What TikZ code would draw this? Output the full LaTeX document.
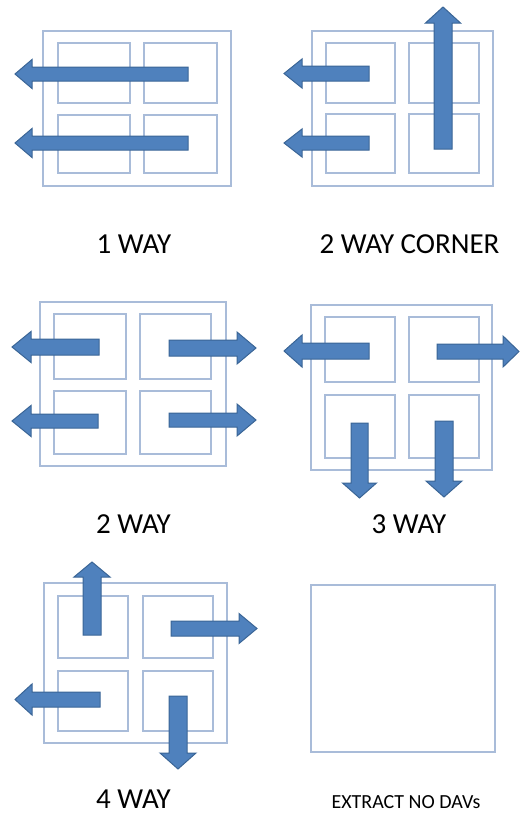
\documentclass[tikz,border=0pt]{standalone}
\usepackage{fontspec}
\setmainfont{Carlito}
\definecolor{boxline}{HTML}{A9BCD9}
\definecolor{arwfill}{HTML}{4F81BD}
\definecolor{arwline}{HTML}{3A6596}
\tikzset{
  frame/.style={draw=boxline, line width=1.2pt},
  arw/.style={fill=arwfill, draw=arwline, line width=1pt, line join=miter},
  biglabel/.style={anchor=base, inner sep=0pt, font=\fontsize{29}{34}\selectfont},
  smalllabel/.style={anchor=base, inner sep=0pt, font=\fontsize{20}{24}\selectfont}
}
% horizontal block arrow: tail x, centre y, half shaft, head base x, tip x, half head
\newcommand{\hArw}[6]{%
  \draw[arw] (#1,#2-#3) -- (#4,#2-#3) -- (#4,#2-#6) -- (#5,#2)
    -- (#4,#2+#6) -- (#4,#2+#3) -- (#1,#2+#3) -- cycle;}
% vertical block arrow: centre x, tail y, half shaft, head base y, tip y, half head
\newcommand{\vArw}[6]{%
  \draw[arw] (#1-#3,#2) -- (#1-#3,#4) -- (#1-#6,#4) -- (#1,#5)
    -- (#1+#6,#4) -- (#1+#3,#4) -- (#1+#3,#2) -- cycle;}
% the four inner cells of a unit
\newcommand{\unitgrid}[8]{%
  \draw[frame] (#1) rectangle (#2);
  \draw[frame] (#3) rectangle (#4);
  \draw[frame] (#5) rectangle (#6);
  \draw[frame] (#7) rectangle (#8);}
\begin{document}
\begin{tikzpicture}[x=1pt,y=-1pt]
\useasboundingbox (0,0) rectangle (520,814);

% ---- 1 WAY ----
\draw[frame] (43,31) rectangle (231,186);
\unitgrid{58,43}{130,103}{144,43}{217,103}{58,115}{130,173}{144,115}{217,173}
\hArw{188}{74}{7}{32}{15}{14.5}
\hArw{188}{143}{7}{32}{15}{14.5}
\node[biglabel] (l1) at (134,253) {1 WAY};

% ---- 2 WAY CORNER ----
\draw[frame] (312,31) rectangle (493,186);
\unitgrid{326,43}{395,103}{409,43}{479,103}{326,114}{395,173}{409,114}{479,173}
\hArw{369}{73.5}{7.5}{302}{284}{14.5}
\hArw{369}{143}{7}{302}{284}{14}
\vArw{443}{149}{9}{23}{7}{17.5}
\node[biglabel] (l2) at (409.5,253) {2 WAY CORNER};

% ---- 2 WAY ----
\draw[frame] (40,302) rectangle (226,466);
\unitgrid{54,314}{126,379}{140,314}{211,379}{54,391}{126,454}{140,391}{211,454}
\hArw{99}{347}{8}{31}{12}{15.5}
\hArw{98}{421}{7}{31}{12}{15.5}
\hArw{169}{348}{8}{237}{256}{16}
\hArw{169}{420}{7}{237}{256}{16}
\node[biglabel] (l3) at (133.5,533) {2 WAY};

% ---- 3 WAY ----
\draw[frame] (311,305) rectangle (492,470);
\unitgrid{325,317}{395,382}{409,317}{479,382}{325,395}{395,458}{409,395}{479,458}
\hArw{369}{351}{8}{302}{284}{16}
\hArw{437}{351.5}{7.5}{503}{519}{15.5}
\vArw{359.5}{423}{8.5}{483}{498}{17}
\vArw{444}{421}{9}{481}{497}{18}
\node[biglabel] (l4) at (409,533) {3 WAY};

% ---- 4 WAY ----
\draw[frame] (44,583) rectangle (227,743);
\unitgrid{58,596}{128,658}{143,596}{213,658}{58,671}{128,731}{143,671}{213,731}
\vArw{92}{635}{9}{577}{562}{18}
\hArw{171}{628.5}{7.5}{239}{257}{15}
\hArw{100}{699.5}{7.5}{32}{15}{15.5}
\vArw{178}{696}{9}{753}{769}{18}
\node[biglabel] (l5) at (133.5,808) {4 WAY};

% ---- EXTRACT NO DAVs ----
\draw[frame] (311,585) rectangle (495,752);
\node[smalllabel] (l6) at (406,808.5) {EXTRACT NO DAVs};
\end{tikzpicture}
\end{document}
